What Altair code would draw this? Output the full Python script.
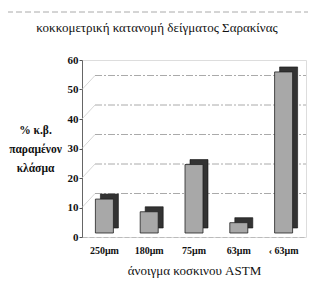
import altair as alt
import pandas as pd

categories = ["250μm", "180μm", "75μm", "63μm", "‹ 63μm"]
values = [11.5, 7.2, 23.2, 3.5, 54.6]
grid_values = [10, 20, 30, 40, 50]
title_text = ["κοκκομετρική κατανομή δείγματος Σαρακίνας"]

df = pd.DataFrame({"cat": categories, "val": values})
gdf = pd.DataFrame({"g": grid_values})
tdf = pd.DataFrame({"t": title_text})

FONT = "Liberation Serif"

x_enc = alt.X("cat:N", sort=categories,
              scale=alt.Scale(paddingInner=0.6, paddingOuter=0.3),
              axis=alt.Axis(title="άνοιγμα κοσκινου ASTM", labelAngle=0,
                            labelFont=FONT, labelFontWeight="bold", labelFontSize=10,
                            labelColor="#111", labelPadding=8, ticks=False,
                            domainColor="#bbb", domainDash=[5, 2],
                            titleFont=FONT, titleFontWeight="normal", titleFontSize=13,
                            titleColor="#111", titlePadding=9))
y_scale = alt.Scale(domain=[0, 60], nice=False)
y_axis = alt.Axis(values=[0, 10, 20, 30, 40, 50, 60], grid=False,
                  labelOverlap=False,
                  title=["% κ.β.", "παραμένον", "κλάσμα"],
                  titleAngle=0, titleAlign="center", titleBaseline="middle",
                  titleX=-47, titleY=70, titleLineHeight=19,
                  titleFont=FONT, titleFontWeight="bold", titleFontSize=11.5,
                  titleColor="#111",
                  labelFont=FONT, labelFontWeight="bold", labelFontSize=11,
                  labelColor="#111", labelPadding=1, tickSize=3,
                  tickColor="#555", domainColor="#666")
y_enc = alt.Y("val:Q", scale=y_scale, axis=y_axis)

front = alt.Chart(df).mark_bar(size=18, yOffset=-4, color="#a8a8a8",
                               stroke="#222", strokeWidth=0.8).encode(x=x_enc, y=y_enc)
back = alt.Chart(df).mark_bar(size=18, xOffset=5, yOffset=-9, color="#333",
                              stroke="#111", strokeWidth=0.6).encode(x=x_enc, y=y_enc)

grid = alt.Chart(gdf).mark_rule(color="#aaa", strokeDash=[7, 2, 2, 2], strokeWidth=1,
                                yOffset=-14).encode(
    y=alt.Y("g:Q", scale=y_scale, axis=y_axis),
    x=alt.value(13), x2=alt.value(224))

diag = alt.Chart(gdf).mark_rule(color="#ccc", strokeWidth=0.8, y2Offset=-14).encode(
    y=alt.Y("g:Q", scale=y_scale, axis=y_axis),
    y2="g:Q",
    x=alt.value(0), x2=alt.value(13))

title = alt.Chart(tdf).mark_text(font=FONT, fontSize=13, fontWeight="normal",
                                 color="#111", align="center",
                                 baseline="middle").encode(
    x=alt.value(75), y=alt.value(-32), text="t:N")

border_left = alt.Chart(tdf).mark_rule(color="#aaa", strokeDash=[6, 3]).encode(
    x=alt.value(-75), y=alt.value(-48), y2=alt.value(225))
border_top = alt.Chart(tdf).mark_rule(color="#aaa", strokeDash=[6, 3]).encode(
    x=alt.value(-75), x2=alt.value(226), y=alt.value(-48))

chart = alt.layer(border_left, border_top, diag, grid, back, front, title).properties(
    width=224, height=177,
    autosize=alt.AutoSizeParams(type="none"),
    padding={"left": 74, "top": 52, "right": 2, "bottom": 42},
).configure_view(stroke=None).configure(background="white")

chart.save("out.html", embed_options={"renderer": "svg", "actions": False})
